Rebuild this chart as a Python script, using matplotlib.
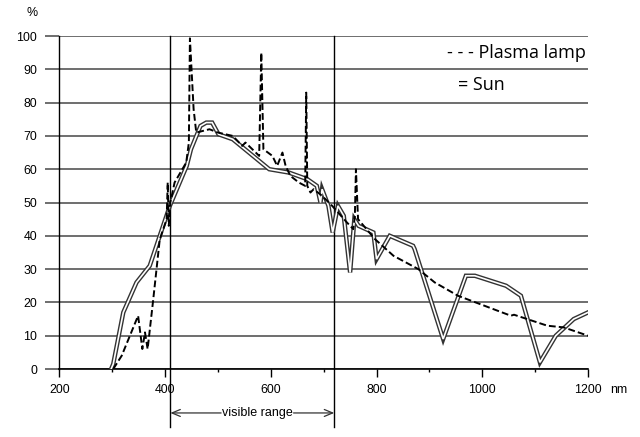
import matplotlib
matplotlib.use("Agg")
import matplotlib.pyplot as plt

# ---- data ----
sun_nm = [298, 302, 321, 346, 371, 390, 409, 441, 449, 467, 478, 489, 501, 528, 597, 634,
          669, 687, 694, 697, 709, 717, 727, 738, 750, 758, 766, 794, 800, 825, 869, 872,
          926, 969, 986, 1045, 1073, 1109, 1139, 1173, 1200]
sun_val = [0, 1.5, 17, 26, 31, 40, 49, 61, 66, 73, 74, 74, 70.5, 69, 60, 59,
           57, 55, 50, 54, 49, 41, 49, 46, 29, 45, 43, 41, 33, 40, 37, 36,
           9, 28, 28, 25, 22, 2, 10, 15, 17]

plasma_nm = [302, 318, 349, 357, 362, 367, 377, 390, 403, 405, 407, 410, 418, 440, 445, 447,
             454, 459, 484, 500, 528, 546, 552, 578, 582, 586, 603, 612, 622, 628, 637, 653,
             665, 667, 669, 675, 681, 697, 716, 744, 756, 759, 761, 765, 797, 832, 879, 910,
             954, 1054, 1060, 1123, 1154, 1200]
plasma_val = [0, 4, 16, 6, 11, 6, 20, 39, 45, 56, 43, 50, 56, 62, 68, 99.3,
              78, 71, 72, 71, 70, 67, 68, 64, 95, 66, 64, 61, 65, 61, 58, 56,
              55, 83, 55, 53, 54, 52, 49, 44, 42, 46, 60, 45, 39, 34, 30, 26,
              22, 16, 16.3, 13, 12.5, 10]

x_ticks = [200, 400, 600, 800, 1000, 1200]
x_tick_labels = ["200", "400", "600", "800", "1000", "1200"]
x_minor = [300, 500, 700, 900, 1100]
y_ticks = [0, 10, 20, 30, 40, 50, 60, 70, 80, 90, 100]
visible_range = [410, 720]

# ---- figure ----
fig = plt.figure(figsize=(6.4, 4.37), dpi=100)
ax = fig.add_axes([0.0927, 0.1556, 0.8261, 0.762])
ax.set_xlim(200, 1200)
ax.set_ylim(0, 100)

grid_col = "#555555"
ax.set_yticks(y_ticks)
ax.set_yticklabels([str(v) for v in y_ticks])
ax.yaxis.grid(True, color=grid_col, lw=1.2)
ax.set_axisbelow(True)
ax.tick_params(axis="y", length=10, width=1.2, color=grid_col, pad=6,
               labelsize=8.9)
ax.set_xticks(x_ticks)
ax.set_xticklabels(x_tick_labels)
ax.set_xticks(x_minor, minor=True)
ax.tick_params(axis="x", which="major", length=5.5, width=1, color="black",
               pad=5, labelsize=8.9)
ax.tick_params(axis="x", which="minor", length=2.5, width=1, color="black")
for lab in ax.get_xticklabels() + ax.get_yticklabels():
    lab.set_fontfamily("Liberation Sans")

for s in ["top", "right"]:
    ax.spines[s].set_visible(False)
ax.spines["left"].set_color("black")
ax.spines["bottom"].set_color("black")
ax.spines["left"].set_linewidth(1)
ax.spines["bottom"].set_linewidth(1.2)

# visible range boundary lines
for v in visible_range:
    ax.plot([v, v], [100, -17.4], color="black", lw=1, clip_on=False, zorder=2)

# Sun: double line
ax.plot(sun_nm, sun_val, color="#333333", lw=3.2, zorder=3, solid_joinstyle="miter")
ax.plot(sun_nm, sun_val, color="white", lw=1.2, zorder=4, solid_joinstyle="miter")

# Plasma lamp: dashed
ax.plot(plasma_nm, plasma_val, color="black", lw=1.4, linestyle=(0, (3.5, 1.6)),
        zorder=5)

# visible range annotation
ya = -13.2
arr = dict(arrowstyle="->,head_length=0.6,head_width=0.25", color="#333333", lw=0.9,
           shrinkA=0, shrinkB=0)
ax.annotate("", xy=(visible_range[0], ya), xytext=(506, ya), arrowprops=arr,
            annotation_clip=False)
ax.annotate("", xy=(visible_range[1], ya), xytext=(643, ya), arrowprops=arr,
            annotation_clip=False)
ax.text(574, ya, "visible range", ha="center", va="center", fontsize=9,
        family=["Liberation Sans Narrow", "Liberation Sans"], clip_on=False)

# unit labels
fig.text(32 / 640, 1 - 13 / 437, "%", ha="center", va="center", fontsize=8.9,
         family="Liberation Sans")
fig.text(619 / 640, 1 - 390 / 437, "nm", ha="center", va="center", fontsize=8.9,
         family="Liberation Sans")

# legend texts
ax.text(933.6, 94.9, "- - - Plasma lamp", ha="left", va="center", fontsize=13,
        family="Open Sans")
ax.text(954.4, 85.3, "= Sun", ha="left", va="center", fontsize=13,
        family="Open Sans")

fig.savefig("out.png", dpi=100)
